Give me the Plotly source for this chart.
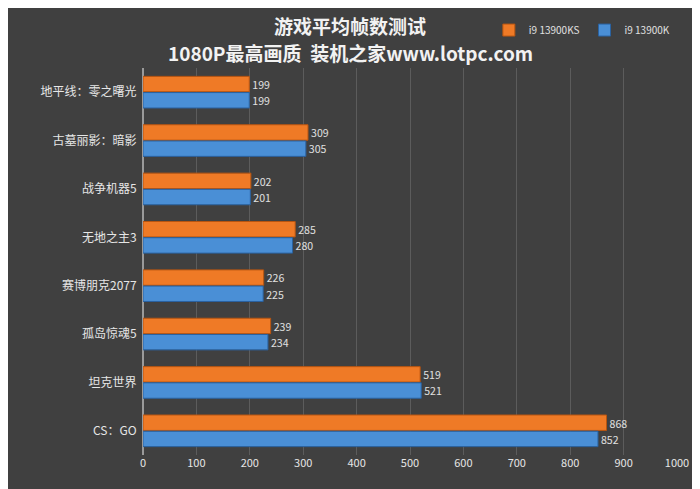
import plotly.graph_objects as go

spiele = ["地平线：零之曙光", "古墓丽影：暗影", "战争机器5", "无地之主3", "赛博朋克2077", "孤岛惊魂5", "坦克世界", "CS：GO"]
i9_13900ks = [199, 309, 202, 285, 226, 239, 519, 868]
i9_13900k = [199, 305, 201, 280, 225, 234, 521, 852]
x_ticks = [0, 100, 200, 300, 400, 500, 600, 700, 800, 900, 1000]

fig = go.Figure()
fig.add_trace(go.Bar(y=spiele, x=i9_13900ks, orientation="h", name="i9 13900KS",
                     marker=dict(color="#ef7a26", line=dict(color="#b85510", width=1)),
                     text=i9_13900ks, textposition="outside", cliponaxis=False,
                     textfont=dict(color="#e0e0e0", size=11)))
fig.add_trace(go.Bar(y=spiele, x=i9_13900k, orientation="h", name="i9 13900K",
                     marker=dict(color="#4a8fd6", line=dict(color="#2a62a0", width=1)),
                     text=i9_13900k, textposition="outside", cliponaxis=False,
                     textfont=dict(color="#e0e0e0", size=11)))

# Titel als zwei Annotationen
fig.add_annotation(text="<b>游戏平均帧数测试</b>", xref="paper", yref="paper", x=0.388, y=1.111,
                   xanchor="center", yanchor="middle", showarrow=False,
                   font=dict(family="Noto Sans CJK SC", size=19, color="#f2f2f2"))
fig.add_annotation(text="<b>1080P最高画质  装机之家www.lotpc.com</b>", xref="paper", yref="paper",
                   x=0.388, y=1.041, xanchor="center", yanchor="middle", showarrow=False,
                   font=dict(family="Noto Sans CJK SC", size=19, color="#f2f2f2"))

fig.update_layout(
    width=692, height=481,
    paper_bgcolor="#404040", plot_bgcolor="#404040",
    font=dict(family="Noto Sans CJK SC", color="#e6e6e6", size=12),
    barmode="group", bargap=0.33, bargroupgap=0.05,
    margin=dict(l=135, r=23, t=60, b=34, autoexpand=False),
    showlegend=True,
    legend=dict(orientation="h", x=0.996, xanchor="right", y=1.098, yanchor="middle",
                bgcolor="rgba(0,0,0,0)", font=dict(size=10, color="#e0e0e0"),
                traceorder="normal", itemwidth=30),
    xaxis=dict(range=[0, 1000], tickvals=x_ticks, gridcolor="#5c5c5c",
               zeroline=True, zerolinecolor="#9a9a9a", tickfont=dict(size=11), automargin=False),
    yaxis=dict(autorange="reversed", tickfont=dict(size=12), ticksuffix="  ", automargin=False),
)

fig.write_html("out.html")
